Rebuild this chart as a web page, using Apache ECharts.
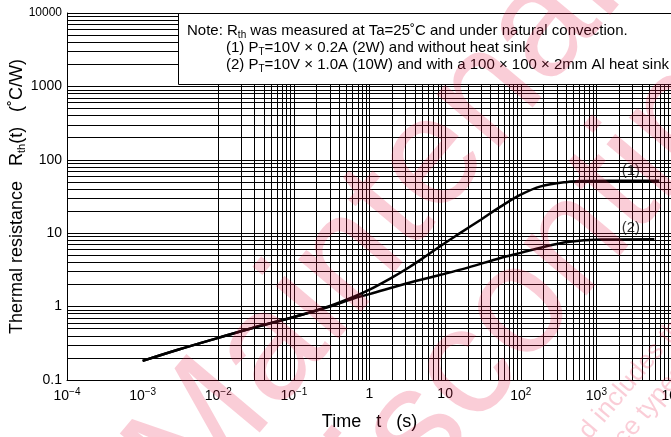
<!DOCTYPE html>
<html><head><meta charset="utf-8">
<script src="https://cdn.jsdelivr.net/npm/echarts@6/dist/echarts.min.js"></script>
<style>html,body{margin:0;padding:0;background:#fff}#c{width:671px;height:437px}</style>
</head><body><div id="c"></div>
<script>
// ---- data ----
const xRange = [1e-4, 1e4];
const yRange = [0.1, 1e4];
const xTickLabels = ['10^−4','10^−3','10^−2','10^−1','1','10','10^2','10^3','10^4'];
const yTickLabels = ['0.1','1','10','100','1000','10000'];
// (1) PT=10V x 0.2A (2W), no heat sink
const curve1 = [[0.001,0.182],[0.003,0.26],[0.01,0.375],[0.03,0.52],[0.1,0.72],[0.3,1.02],[0.6,1.34],[1,1.7],[2,2.5],[3,3.2],[5,4.5],[8.7,6.7],[15,9.7],[30,15.4],[54,23],[100,33.5],[184,43.5],[415,50],[690,51.5],[1500,52],[6800,52]];
// (2) PT=10V x 1.0A (10W), 100x100x2mm Al heat sink
const curve2 = [[0.001,0.182],[0.003,0.26],[0.01,0.375],[0.03,0.52],[0.1,0.72],[0.3,1.0],[0.6,1.28],[1,1.48],[3.16,2.08],[8.7,2.71],[20,3.4],[54,4.6],[100,5.4],[200,6.5],[415,7.6],[1150,8.2],[5850,8.3]];
const curveLabels = ['(1)','(2)'];
const curveLabelPos = [[2860,71],[2860,11.9]];
const noteLines = [
  'Note: R{sub|th} was measured at Ta=25˚C and under natural convection.',
  '(1) P{sub|T}=10V × 0.2A (2W) and without heat sink',
  '(2) P{sub|T}=10V × 1.0A (10W) and with a 100 × 100 × 2mm Al heat sink'
];
const xName = 'Time   t   (s)';
const yName = 'Thermal resistance   R{sub|th}(t)   (˚C/W)';

// ---- helpers ----
const FONT = "'Liberation Sans', Arial, Helvetica, sans-serif";
function toRich(s){ const p = s.split('^'); return p.length>1 ? '{b|'+p[0]+'}{s|'+p[1]+'}' : '{b|'+s+'}'; }
function gridVals(lo, hi){ const out=[]; for(let e=lo;e<hi;e++){ for(let m=1;m<=9;m++){ out.push(m*Math.pow(10,e)); } } out.push(Math.pow(10,hi)); return out; }
const vLines = gridVals(-4,4).map(v=>({xAxis:v}));
const hLines = gridVals(-1,4).map(v=>({yAxis:v}));
const subRich = {fontSize:10, padding:[9,0,0,0], fontFamily:FONT, color:'#000'};
const WM = 'rgba(232,27,73,0.22)';
const ROT = 50*Math.PI/180;

const chart = echarts.init(document.getElementById('c'), null, {renderer:'canvas'});
chart.setOption({
  animation:false,
  backgroundColor:'#fff',
  grid:{left:67,right:-1,top:13,bottom:57,containLabel:false,outerBoundsMode:'none'},
  xAxis:{type:'log',logBase:10,min:xRange[0],max:xRange[1],splitNumber:8,
    axisLine:{show:true,lineStyle:{color:'#000',width:1}},axisTick:{show:false},splitLine:{show:false},
    axisLabel:{margin:7,hideOverlap:false,formatter:v=>toRich(xTickLabels[Math.round(Math.log10(v))+4]),
      rich:{b:{fontSize:14,fontFamily:FONT,color:'#000'},s:{fontSize:10,fontFamily:FONT,color:'#000',padding:[0,0,8,0]}}},
    name:xName,nameLocation:'middle',nameGap:33,nameMoveOverlap:false,nameTextStyle:{fontSize:18,fontFamily:FONT,color:'#000'}},
  yAxis:{type:'log',logBase:10,min:yRange[0],max:yRange[1],splitNumber:5,
    axisLine:{show:true,lineStyle:{color:'#000',width:1}},axisTick:{show:false},splitLine:{show:false},
    axisLabel:{margin:5,fontSize:14,fontFamily:FONT,color:'#000',formatter:v=>{const k=Math.round(Math.log10(v))+1;return k===5?'{m|'+yTickLabels[k]+'}':yTickLabels[k];},
      rich:{m:{fontSize:12,fontFamily:FONT,color:'#000'}}},
    name:yName,nameLocation:'middle',nameRotate:90,nameGap:40,nameMoveOverlap:false,
    nameTextStyle:{fontSize:18,fontFamily:FONT,color:'#000',rich:{sub:{fontSize:11,padding:[9,0,0,0],fontFamily:FONT,color:'#000'}}}},
  series:[
    {type:'line',data:[],z:1,silent:true,
      markLine:{silent:true,symbol:['none','none'],label:{show:false},emphasis:{disabled:true},
        lineStyle:{color:'#000',width:1,type:'solid',opacity:1},data:vLines.concat(hLines)}},
    {type:'line',data:curve1,showSymbol:false,smooth:0.35,z:3,lineStyle:{color:'#000',width:2.5}},
    {type:'line',data:curve2,showSymbol:false,smooth:0.35,z:3,lineStyle:{color:'#000',width:2.5}},
    {type:'scatter',symbolSize:0,z:4,silent:true,
      data:curveLabelPos.map((p,i)=>({value:p,label:{formatter:curveLabels[i]}})),
      label:{show:true,position:'inside',fontSize:15,fontFamily:FONT,color:'#000'}}
  ],
  graphic:[
    {type:'rect',z:50,shape:{x:178.5,y:13.5,width:520,height:71},style:{fill:'#fff',stroke:'#000',lineWidth:1}},
    {type:'text',z:51,x:187,y:31,style:{text:noteLines[0],fontSize:15,fontFamily:FONT,fill:'#000',verticalAlign:'middle',rich:{sub:subRich}}},
    {type:'text',z:51,x:226,y:48,style:{text:noteLines[1],fontSize:15,fontFamily:FONT,fill:'#000',verticalAlign:'middle',rich:{sub:subRich}}},
    {type:'text',z:51,x:226,y:65,style:{text:noteLines[2],fontSize:15,fontFamily:FONT,fill:'#000',verticalAlign:'middle',rich:{sub:subRich}}},
    {type:'text',z:100,silent:true,x:220,y:534,rotation:ROT,style:{text:'Maintenance/',fontSize:155,fontFamily:FONT,fill:WM,align:'left',verticalAlign:'bottom'}},
    {type:'text',z:100,silent:true,x:357,y:623,rotation:ROT,style:{text:'Discontinued',fontSize:155,fontFamily:FONT,fill:WM,align:'left',verticalAlign:'bottom'}},
    {type:'text',z:100,silent:true,x:594,y:444,rotation:ROT,style:{text:'d includes the following',fontSize:26,fontFamily:FONT,fill:WM,align:'left',verticalAlign:'bottom'}},
    {type:'text',z:100,silent:true,x:629,y:451,rotation:ROT,style:{text:'ce types',fontSize:26,fontFamily:FONT,fill:WM,align:'left',verticalAlign:'bottom'}}
  ]
});
</script></body></html>
